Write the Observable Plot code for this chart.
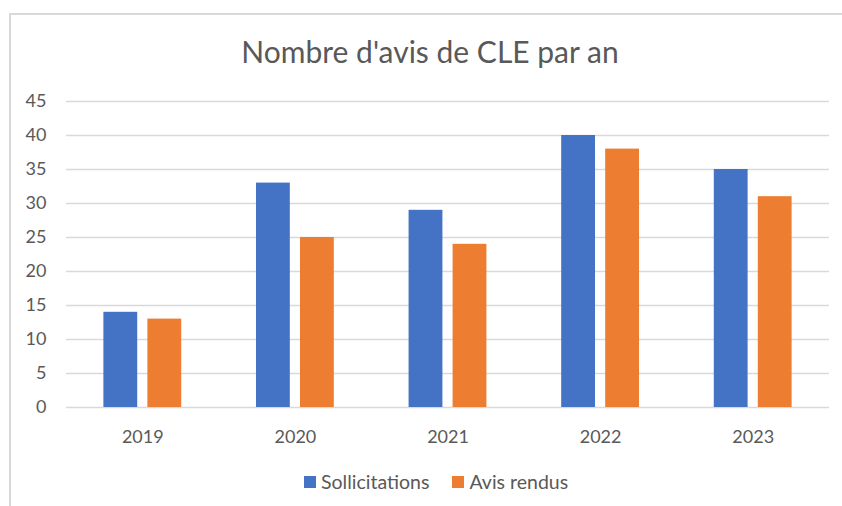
<!DOCTYPE html>
<html>
<head>
<meta charset="utf-8">
<script src="https://cdn.jsdelivr.net/npm/d3@7"></script>
<script src="https://cdn.jsdelivr.net/npm/@observablehq/plot@0.6"></script>
<style>
  html, body { margin: 0; padding: 0; background: #fff; }
  #wrap { position: relative; width: 842px; height: 506px; overflow: hidden; font-family: Lato, "Open Sans", sans-serif; color: #595959; }
  #frame { position: absolute; left: 9px; top: 13px; width: 840px; height: 500px; border-top: 2px solid #d9d9d9; border-left: 2px solid #d9d9d9; }
  #title { position: absolute; top: 32px; left: 230px; width: 400px; text-align: center; font-size: 30px; line-height: 38px; white-space: nowrap; }
  #chart { position: absolute; left: 0; top: 85px; }
  #legend { position: absolute; top: 470px; left: 304px; display: flex; align-items: center; font-size: 19.5px; line-height: 24px; white-space: nowrap; }
  .sw { display: inline-block; width: 12px; height: 12px; margin-right: 5px; }
  .item { display: flex; align-items: center; margin-right: 23px; }
</style>
</head>
<body>
<div id="wrap">
  <div id="frame"></div>
  <div id="title">Nombre d'avis de CLE par an</div>
  <div id="chart"></div>
  <div id="legend"></div>
</div>
<script>
const years = ["2019", "2020", "2021", "2022", "2023"];
const sollicitations = [14, 33, 29, 40, 35];
const avisRendus = [13, 25, 24, 38, 31];
const seriesNames = ["Sollicitations", "Avis rendus"];
const seriesColors = ["#4472C4", "#ED7D31"];
const yTicks = [0, 5, 10, 15, 20, 25, 30, 35, 40, 45];

const blue = years.map((y, i) => ({year: y, value: sollicitations[i]}));
const orange = years.map((y, i) => ({year: y, value: avisRendus[i]}));

const plot = Plot.plot({
  width: 842,
  height: 370,
  marginTop: 16,
  marginBottom: 48,
  marginLeft: 66,
  marginRight: 13,
  style: {fontFamily: "Lato, 'Open Sans', sans-serif", color: "#595959", background: "transparent"},
  x: {domain: years, paddingInner: 0.49, paddingOuter: 0.245, round: false, label: null},
  y: {domain: [0, 45], label: null},
  marks: [
    Plot.ruleY(yTicks, {stroke: "#d9d9d9", strokeWidth: 1.3}),
    Plot.barY(blue, {x: "year", y: "value", fill: seriesColors[0], insetLeft: 0, insetRight: 44}),
    Plot.barY(orange, {x: "year", y: "value", fill: seriesColors[1], insetLeft: 44, insetRight: 0}),
    Plot.axisY({ticks: yTicks, tickSize: 0, tickPadding: 20, fontSize: 18, label: null, tickFormat: d => String(d)}),
    Plot.axisX({tickSize: 0, tickPadding: 23, fontSize: 18, label: null})
  ]
});
document.getElementById("chart").appendChild(plot);

const legend = document.getElementById("legend");
seriesNames.forEach((name, i) => {
  const item = document.createElement("span");
  item.className = "item";
  const sw = document.createElement("span");
  sw.className = "sw";
  sw.style.background = seriesColors[i];
  item.appendChild(sw);
  item.appendChild(document.createTextNode(name));
  legend.appendChild(item);
});
</script>
</body>
</html>
